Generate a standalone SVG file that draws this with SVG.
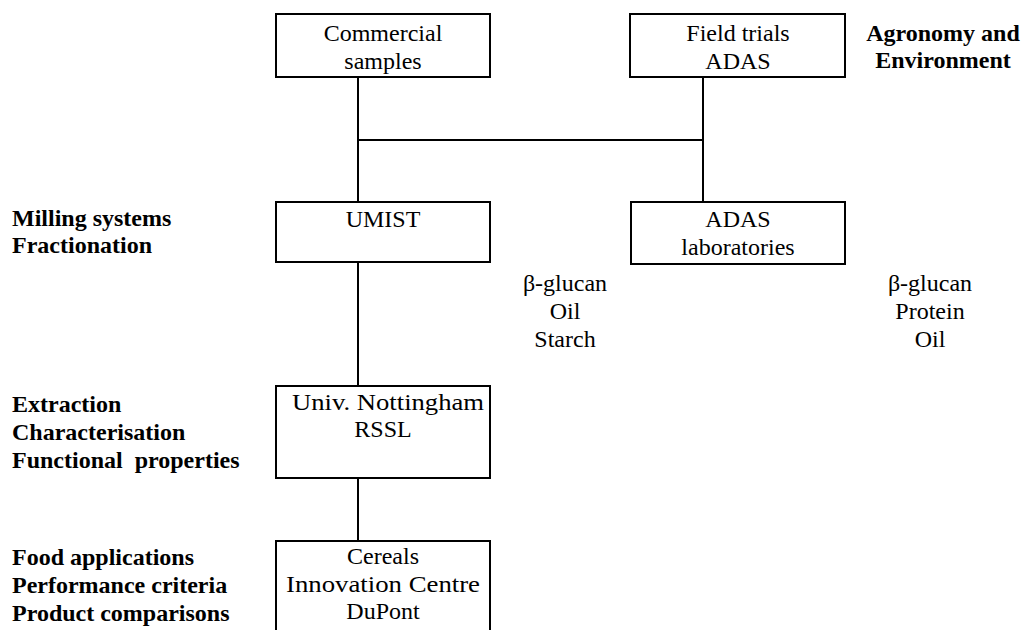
<svg xmlns="http://www.w3.org/2000/svg" width="1026" height="630" viewBox="0 0 1026 630">
<style>
.box{fill:#fff;stroke:#000;stroke-width:2}
.ln{stroke:#000;stroke-width:2;fill:none}
.c{text-anchor:middle}
.b{font-weight:bold}
</style>
<rect width="1026" height="630" fill="#fff"/>
<g id="connectors">
<line class="ln" x1="358" y1="77" x2="358" y2="202"/>
<line class="ln" x1="703" y1="77" x2="703" y2="202"/>
<line class="ln" x1="358" y1="140" x2="703" y2="140"/>
<line class="ln" x1="358" y1="262" x2="358" y2="386"/>
<line class="ln" x1="358" y1="478" x2="358" y2="541"/>
</g>
<g font-family="Liberation Serif, Times New Roman, serif" font-size="24" fill="#000">
<g id="commercial">
<rect class="box" x="276" y="14" width="214" height="63"/>
<text class="c" x="383" y="41">Commercial</text>
<text class="c" x="383" y="69">samples</text>
</g>
<g id="field-trials">
<rect class="box" x="630" y="14" width="215" height="63"/>
<text class="c" x="738" y="41">Field trials</text>
<text class="c" x="738" y="69">ADAS</text>
</g>
<g id="agronomy-label">
<text class="c b" x="943" y="41">Agronomy and</text>
<text class="c b" x="943" y="68">Environment</text>
</g>
<g id="umist">
<rect class="box" x="276" y="202" width="214" height="60"/>
<text class="c" x="383" y="227">UMIST</text>
</g>
<g id="adas-labs">
<rect class="box" x="631" y="202" width="214" height="62"/>
<text class="c" x="738" y="227">ADAS</text>
<text class="c" x="738" y="255">laboratories</text>
</g>
<g id="milling-label">
<text class="b" x="12" y="226">Milling systems</text>
<text class="b" x="12" y="253">Fractionation</text>
</g>
<g id="umist-products">
<text class="c" x="565" y="291">β-glucan</text>
<text class="c" x="565" y="319">Oil</text>
<text class="c" x="565" y="347">Starch</text>
</g>
<g id="adas-products">
<text class="c" x="930" y="291">β-glucan</text>
<text class="c" x="930" y="319">Protein</text>
<text class="c" x="930" y="347">Oil</text>
</g>
<g id="nottingham">
<rect class="box" x="276" y="386" width="214" height="92"/>
<text class="c" x="388" y="410" textLength="192" lengthAdjust="spacingAndGlyphs">Univ. Nottingham</text>
<text class="c" x="383" y="437">RSSL</text>
</g>
<g id="extraction-label">
<text class="b" x="12" y="412">Extraction</text>
<text class="b" x="12" y="440">Characterisation</text>
<text class="b" x="12" y="468" xml:space="preserve">Functional  properties</text>
</g>
<g id="cereals">
<rect class="box" x="276" y="541" width="214" height="100"/>
<text class="c" x="383" y="564">Cereals</text>
<text class="c" x="383" y="592" textLength="194" lengthAdjust="spacingAndGlyphs">Innovation Centre</text>
<text class="c" x="383" y="619">DuPont</text>
</g>
<g id="food-label">
<text class="b" x="12" y="565">Food applications</text>
<text class="b" x="12" y="593">Performance criteria</text>
<text class="b" x="12" y="621">Product comparisons</text>
</g>
</g>
</svg>
